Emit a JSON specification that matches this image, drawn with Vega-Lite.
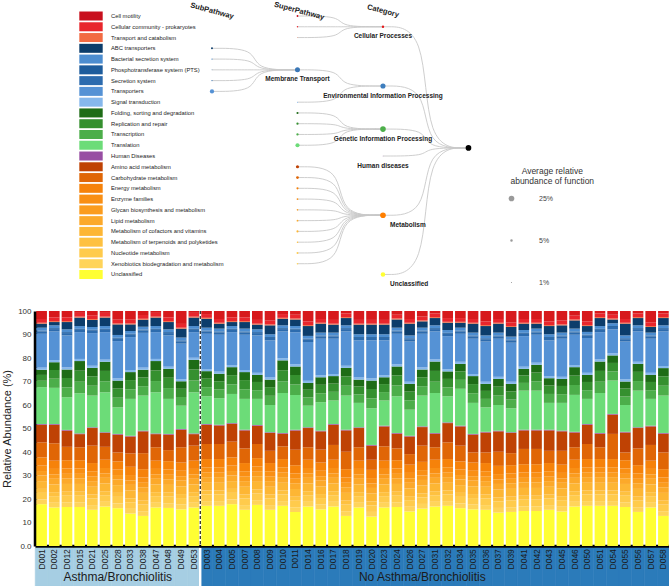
{
"$schema": "https://vega.github.io/schema/vega-lite/v6.json",
"padding": {"left": 1, "top": 0, "right": 0, "bottom": 0},
"bounds": "flush",
"spacing": 2,
"config": {"font": "Liberation Sans", "view": {"stroke": null}},
"resolve": {"scale": {"x": "independent", "y": "independent", "color": "independent", "size": "independent", "stroke": "independent"}, "axis": {"x": "independent", "y": "independent"}, "legend": {"color": "independent", "size": "independent"}},
"datasets": {
"samples": [
{"id":"D001","grp":"A","a":17.8,"b":2,"c":2.8,"d":1.7,"e":3.3,"f":2.4,"g":1.9,"h":2.3,"i":3.5,"j":6.4,"k":7.5,"l":0.3,"m":15.7,"n":2.7,"o":2.5,"p":2.2,"q":0.9,"r":14.4,"s":1,"t":0.4,"u":1.2,"v":1.7,"w":0.4,"x":1.6,"y":3.4},
{"id":"D002","grp":"A","a":16.4,"b":2,"c":2.8,"d":1.7,"e":3.3,"f":2.4,"g":1.9,"h":2.3,"i":3.5,"j":7.4,"k":7.9,"l":0.3,"m":15.4,"n":3.9,"o":3.7,"p":3.3,"q":0.9,"r":12.2,"s":1,"t":0.4,"u":1.2,"v":1.4,"w":0.4,"x":1.6,"y":2.7},
{"id":"D012","grp":"A","a":16.6,"b":2,"c":2.8,"d":1.7,"e":3.3,"f":2.4,"g":1.9,"h":2.3,"i":3.5,"j":5.7,"k":6.9,"l":0.3,"m":13.9,"n":4.2,"o":4.0,"p":3.6,"q":0.9,"r":13.6,"s":1,"t":0.4,"u":1.2,"v":3.1,"w":0.4,"x":1.6,"y":2.7},
{"id":"D015","grp":"A","a":16.6,"b":2,"c":2.8,"d":1.7,"e":3.3,"f":2.4,"g":1.9,"h":2.3,"i":3.5,"j":5.5,"k":5.6,"l":0.3,"m":17.1,"n":4.9,"o":4.7,"p":4.1,"q":0.9,"r":11.4,"s":1,"t":0.4,"u":1.2,"v":3.6,"w":0.4,"x":1.6,"y":0.8},
{"id":"D021","grp":"A","a":15.4,"b":2,"c":2.8,"d":1.7,"e":3.3,"f":2.4,"g":1.9,"h":2.3,"i":3.5,"j":7.4,"k":7.5,"l":0.3,"m":13.5,"n":4.2,"o":4.0,"p":3.6,"q":0.9,"r":13.9,"s":1,"t":0.4,"u":1.2,"v":3.0,"w":0.4,"x":1.6,"y":1.8},
{"id":"D025","grp":"A","a":16.8,"b":2,"c":2.8,"d":1.7,"e":3.3,"f":2.4,"g":1.9,"h":2.3,"i":3.5,"j":5.5,"k":5.9,"l":0.3,"m":17.0,"n":4.7,"o":4.4,"p":3.9,"q":0.9,"r":11.7,"s":1,"t":0.4,"u":1.2,"v":3.6,"w":0.4,"x":1.6,"y":0.8},
{"id":"D028","grp":"A","a":16.1,"b":2,"c":2.8,"d":1.7,"e":3.3,"f":2.4,"g":1.9,"h":2.3,"i":3.5,"j":3.8,"k":7.6,"l":0.3,"m":11.3,"n":4.1,"o":3.9,"p":3.4,"q":0.9,"r":15.9,"s":1,"t":0.4,"u":1.2,"v":4.5,"w":0.4,"x":1.6,"y":3.7},
{"id":"D033","grp":"A","a":13.8,"b":2,"c":2.8,"d":1.7,"e":3.3,"f":2.4,"g":1.9,"h":2.3,"i":3.5,"j":5.7,"k":7.2,"l":0.3,"m":15.7,"n":4.1,"o":3.9,"p":3.4,"q":0.9,"r":14.0,"s":1,"t":0.4,"u":1.2,"v":2.8,"w":0.4,"x":1.6,"y":3.7},
{"id":"D038","grp":"A","a":12.8,"b":2,"c":2.8,"d":1.7,"e":3.3,"f":2.4,"g":1.9,"h":2.3,"i":3.5,"j":6.8,"k":9.3,"l":0.3,"m":14.9,"n":4.0,"o":3.7,"p":3.3,"q":0.9,"r":14.8,"s":1,"t":0.4,"u":1.2,"v":3.0,"w":0.4,"x":1.6,"y":1.7},
{"id":"D047","grp":"A","a":16.4,"b":2,"c":2.8,"d":1.7,"e":3.3,"f":2.4,"g":1.9,"h":2.3,"i":3.5,"j":5.7,"k":5.6,"l":0.3,"m":17.5,"n":4.8,"o":4.5,"p":4.0,"q":0.9,"r":11.4,"s":1,"t":0.4,"u":1.2,"v":3.6,"w":0.4,"x":1.6,"y":0.8},
{"id":"D048","grp":"A","a":16.2,"b":2,"c":2.8,"d":1.7,"e":3.3,"f":2.4,"g":1.9,"h":2.3,"i":3.5,"j":4.7,"k":6.6,"l":0.3,"m":14.9,"n":4.6,"o":4.4,"p":3.8,"q":0.9,"r":13.3,"s":1,"t":0.4,"u":1.2,"v":3.1,"w":0.4,"x":1.6,"y":2.7},
{"id":"D049","grp":"A","a":15.6,"b":2,"c":2.8,"d":1.7,"e":3.3,"f":2.4,"g":1.9,"h":2.3,"i":3.5,"j":6.5,"k":7.5,"l":0.3,"m":9.9,"n":3.7,"o":3.5,"p":3.2,"q":0.9,"r":15.1,"s":1,"t":0.4,"u":1.2,"v":3.8,"w":0.4,"x":1.6,"y":5.5},
{"id":"D053","grp":"A","a":16.4,"b":2,"c":2.8,"d":1.7,"e":3.3,"f":2.4,"g":1.9,"h":2.3,"i":3.5,"j":6.4,"k":4.9,"l":0.3,"m":17.5,"n":5.0,"o":4.7,"p":4.1,"q":0.9,"r":10.9,"s":1,"t":0.4,"u":1.2,"v":3.6,"w":0.4,"x":1.6,"y":0.8},
{"id":"D003","grp":"N","a":17.1,"b":2,"c":2.8,"d":1.7,"e":3.3,"f":2.4,"g":1.9,"h":2.3,"i":3.5,"j":6.4,"k":8.2,"l":0.3,"m":11.8,"n":3.9,"o":3.6,"p":3.2,"q":0.9,"r":15.0,"s":1,"t":0.4,"u":1.2,"v":3.8,"w":0.4,"x":1.6,"y":1.3},
{"id":"D004","grp":"N","a":17.1,"b":2,"c":2.8,"d":1.7,"e":3.3,"f":2.4,"g":1.9,"h":2.3,"i":3.5,"j":6.4,"k":7.9,"l":0.3,"m":11.3,"n":3.7,"o":3.5,"p":3.2,"q":0.9,"r":15.7,"s":1,"t":0.4,"u":1.2,"v":2.1,"w":0.4,"x":1.6,"y":3.4},
{"id":"D005","grp":"N","a":17.8,"b":2,"c":2.8,"d":1.7,"e":3.3,"f":2.4,"g":1.9,"h":2.3,"i":3.5,"j":6.7,"k":7.6,"l":0.3,"m":12.4,"n":4.1,"o":3.9,"p":3.4,"q":0.9,"r":14.0,"s":1,"t":0.4,"u":1.2,"v":1.7,"w":0.4,"x":1.6,"y":2.7},
{"id":"D007","grp":"N","a":15.4,"b":2,"c":2.8,"d":1.7,"e":3.3,"f":2.4,"g":1.9,"h":2.3,"i":3.5,"j":6.2,"k":7.7,"l":0.3,"m":13.1,"n":4.1,"o":3.9,"p":3.4,"q":0.9,"r":15.0,"s":1,"t":0.4,"u":1.2,"v":2.8,"w":0.4,"x":1.6,"y":2.7},
{"id":"D008","grp":"N","a":17.5,"b":2,"c":2.8,"d":1.7,"e":3.3,"f":2.4,"g":1.9,"h":2.3,"i":3.5,"j":6.0,"k":7.8,"l":0.3,"m":11.1,"n":3.7,"o":3.5,"p":3.0,"q":0.9,"r":15.9,"s":1,"t":0.4,"u":1.2,"v":2.0,"w":0.4,"x":1.6,"y":3.8},
{"id":"D009","grp":"N","a":15.4,"b":2,"c":2.8,"d":1.7,"e":3.3,"f":2.4,"g":1.9,"h":2.3,"i":3.5,"j":5.2,"k":7.6,"l":0.3,"m":11.6,"n":3.9,"o":3.7,"p":3.2,"q":0.9,"r":15.8,"s":1,"t":0.4,"u":1.2,"v":3.8,"w":0.4,"x":1.6,"y":4.1},
{"id":"D010","grp":"N","a":17.1,"b":2,"c":2.8,"d":1.7,"e":3.3,"f":2.4,"g":1.9,"h":2.3,"i":3.5,"j":5.4,"k":5.4,"l":0.3,"m":17.0,"n":5.0,"o":4.7,"p":4.2,"q":0.9,"r":11.4,"s":1,"t":0.4,"u":1.2,"v":2.8,"w":0.4,"x":1.6,"y":1.3},
{"id":"D011","grp":"N","a":14.5,"b":2,"c":2.8,"d":1.7,"e":3.3,"f":2.4,"g":1.9,"h":2.3,"i":3.5,"j":6.6,"k":8.2,"l":0.3,"m":14.8,"n":4.4,"o":4.1,"p":3.6,"q":0.9,"r":13.7,"s":1,"t":0.4,"u":1.2,"v":2.8,"w":0.4,"x":1.6,"y":1.6},
{"id":"D014","grp":"N","a":16.8,"b":2,"c":2.8,"d":1.7,"e":3.3,"f":2.4,"g":1.9,"h":2.3,"i":3.5,"j":5.3,"k":8.2,"l":0.3,"m":9.2,"n":3.5,"o":3.3,"p":2.9,"q":0.9,"r":16.5,"s":1,"t":0.4,"u":1.2,"v":4.2,"w":0.4,"x":1.6,"y":4.4},
{"id":"D016","grp":"N","a":15.6,"b":2,"c":2.8,"d":1.7,"e":3.3,"f":2.4,"g":1.9,"h":2.3,"i":3.5,"j":5.5,"k":7.8,"l":0.3,"m":12.1,"n":3.8,"o":3.6,"p":3.2,"q":0.9,"r":15.5,"s":1,"t":0.4,"u":1.2,"v":3.8,"w":0.4,"x":1.6,"y":3.4},
{"id":"D017","grp":"N","a":16.8,"b":2,"c":2.8,"d":1.7,"e":3.3,"f":2.4,"g":1.9,"h":2.3,"i":3.5,"j":6.3,"k":8.6,"l":0.3,"m":10.0,"n":3.7,"o":3.5,"p":3.2,"q":0.9,"r":15.0,"s":1,"t":0.4,"u":1.2,"v":3.4,"w":0.4,"x":1.6,"y":3.8},
{"id":"D018","grp":"N","a":12.8,"b":2,"c":2.8,"d":1.7,"e":3.3,"f":2.4,"g":1.9,"h":2.3,"i":3.5,"j":7.4,"k":9.1,"l":0.3,"m":14.5,"n":4.2,"o":4.0,"p":3.6,"q":0.9,"r":14.6,"s":1,"t":0.4,"u":1.2,"v":3.1,"w":0.4,"x":1.6,"y":1.0},
{"id":"D019","grp":"N","a":16.4,"b":2,"c":2.8,"d":1.7,"e":3.3,"f":2.4,"g":1.9,"h":2.3,"i":3.5,"j":5.7,"k":8.2,"l":0.3,"m":10.4,"n":3.6,"o":3.4,"p":2.9,"q":0.9,"r":15.8,"s":1,"t":0.4,"u":1.2,"v":4.1,"w":0.4,"x":1.6,"y":3.8},
{"id":"D020","grp":"N","a":12.5,"b":2,"c":2.8,"d":1.7,"e":3.3,"f":2.4,"g":1.9,"h":2.3,"i":3.5,"j":4.3,"k":6.0,"l":0.3,"m":15.6,"n":4.2,"o":4.0,"p":3.6,"q":0.9,"r":16.2,"s":1,"t":0.4,"u":1.2,"v":4.1,"w":0.4,"x":1.6,"y":3.8},
{"id":"D023","grp":"N","a":16.4,"b":2,"c":2.8,"d":1.7,"e":3.3,"f":2.4,"g":1.9,"h":2.3,"i":3.5,"j":6.1,"k":8.5,"l":0.3,"m":10.7,"n":3.6,"o":3.4,"p":2.9,"q":0.9,"r":14.8,"s":1,"t":0.4,"u":1.2,"v":4.1,"w":0.4,"x":1.6,"y":3.8},
{"id":"D024","grp":"N","a":16.6,"b":2,"c":2.8,"d":1.7,"e":3.3,"f":2.4,"g":1.9,"h":2.3,"i":3.5,"j":5.0,"k":6.3,"l":0.3,"m":15.6,"n":4.6,"o":4.3,"p":3.8,"q":0.9,"r":13.0,"s":1,"t":0.4,"u":1.2,"v":3.5,"w":0.4,"x":1.6,"y":1.6},
{"id":"D026","grp":"N","a":14.7,"b":2,"c":2.8,"d":1.7,"e":3.3,"f":2.4,"g":1.9,"h":2.3,"i":3.5,"j":4.5,"k":7.5,"l":0.3,"m":11.1,"n":4.0,"o":3.7,"p":3.3,"q":0.9,"r":17.1,"s":1,"t":0.4,"u":1.2,"v":5.0,"w":0.4,"x":1.6,"y":3.4},
{"id":"D027","grp":"N","a":15.9,"b":2,"c":2.8,"d":1.7,"e":3.3,"f":2.4,"g":1.9,"h":2.3,"i":3.5,"j":6.9,"k":7.9,"l":0.3,"m":13.1,"n":4.0,"o":3.8,"p":3.3,"q":0.9,"r":14.3,"s":1,"t":0.4,"u":1.2,"v":2.7,"w":0.4,"x":1.6,"y":2.4},
{"id":"D031","grp":"N","a":16.8,"b":2,"c":2.8,"d":1.7,"e":3.3,"f":2.4,"g":1.9,"h":2.3,"i":3.5,"j":5.3,"k":5.8,"l":0.3,"m":17.0,"n":4.8,"o":4.6,"p":4.0,"q":0.9,"r":11.9,"s":1,"t":0.4,"u":1.2,"v":3.1,"w":0.4,"x":1.6,"y":1.0},
{"id":"D032","grp":"N","a":17.1,"b":2,"c":2.8,"d":1.7,"e":3.3,"f":2.4,"g":1.9,"h":2.3,"i":3.5,"j":7.1,"k":8.2,"l":0.3,"m":11.1,"n":3.8,"o":3.6,"p":3.2,"q":0.9,"r":14.1,"s":1,"t":0.4,"u":1.2,"v":3.1,"w":0.4,"x":1.6,"y":3.0},
{"id":"D034","grp":"N","a":16.1,"b":2,"c":2.8,"d":1.7,"e":3.3,"f":2.4,"g":1.9,"h":2.3,"i":3.5,"j":6.7,"k":8.2,"l":0.3,"m":15.7,"n":3.8,"o":3.6,"p":3.2,"q":0.9,"r":11.9,"s":1,"t":0.4,"u":1.2,"v":2.1,"w":0.4,"x":1.6,"y":3.0},
{"id":"D035","grp":"N","a":15.6,"b":2,"c":2.8,"d":1.7,"e":3.3,"f":2.4,"g":1.9,"h":2.3,"i":3.5,"j":4.3,"k":7.6,"l":0.3,"m":13.2,"n":4.1,"o":3.9,"p":3.4,"q":0.9,"r":15.0,"s":1,"t":0.4,"u":1.2,"v":3.8,"w":0.4,"x":1.6,"y":3.4},
{"id":"D036","grp":"N","a":15.4,"b":2,"c":2.8,"d":1.7,"e":3.3,"f":2.4,"g":1.9,"h":2.3,"i":3.5,"j":4.5,"k":8.5,"l":0.3,"m":10.4,"n":3.6,"o":3.4,"p":3.0,"q":0.9,"r":17.1,"s":1,"t":0.4,"u":1.2,"v":4.0,"w":0.4,"x":1.6,"y":4.4},
{"id":"D037","grp":"N","a":14.2,"b":2,"c":2.8,"d":1.7,"e":3.3,"f":2.4,"g":1.9,"h":2.3,"i":3.5,"j":6.0,"k":8.7,"l":0.3,"m":10.9,"n":4.0,"o":3.8,"p":3.3,"q":0.9,"r":16.2,"s":1,"t":0.4,"u":1.2,"v":3.8,"w":0.4,"x":1.6,"y":3.4},
{"id":"D039","grp":"N","a":14.5,"b":2,"c":2.8,"d":1.7,"e":3.3,"f":2.4,"g":1.9,"h":2.3,"i":3.5,"j":5.1,"k":8.6,"l":0.3,"m":10.2,"n":3.7,"o":3.5,"p":3.2,"q":0.9,"r":16.6,"s":1,"t":0.4,"u":1.2,"v":4.1,"w":0.4,"x":1.6,"y":4.8},
{"id":"D041","grp":"N","a":14.9,"b":2,"c":2.8,"d":1.7,"e":3.3,"f":2.4,"g":1.9,"h":2.3,"i":3.5,"j":6.5,"k":7.9,"l":0.3,"m":16.6,"n":3.3,"o":3.2,"p":2.8,"q":0.9,"r":13.0,"s":1,"t":0.4,"u":1.2,"v":2.7,"w":0.4,"x":1.6,"y":3.4},
{"id":"D042","grp":"N","a":14.9,"b":2,"c":2.8,"d":1.7,"e":3.3,"f":2.4,"g":1.9,"h":2.3,"i":3.5,"j":6.5,"k":7.9,"l":0.3,"m":16.6,"n":4.0,"o":3.7,"p":3.3,"q":0.9,"r":11.9,"s":1,"t":0.4,"u":1.2,"v":2.1,"w":0.4,"x":1.6,"y":3.4},
{"id":"D043","grp":"N","a":15.4,"b":2,"c":2.8,"d":1.7,"e":3.3,"f":2.4,"g":1.9,"h":2.3,"i":3.5,"j":5.2,"k":8.7,"l":0.3,"m":11.4,"n":3.8,"o":3.6,"p":3.1,"q":0.9,"r":15.2,"s":1,"t":0.4,"u":1.2,"v":3.5,"w":0.4,"x":1.6,"y":4.4},
{"id":"D045","grp":"N","a":14.7,"b":2,"c":2.8,"d":1.7,"e":3.3,"f":2.4,"g":1.9,"h":2.3,"i":3.5,"j":5.9,"k":8.3,"l":0.3,"m":11.8,"n":3.7,"o":3.5,"p":3.0,"q":0.9,"r":16.2,"s":1,"t":0.4,"u":1.2,"v":3.1,"w":0.4,"x":1.6,"y":4.1},
{"id":"D046","grp":"N","a":16.8,"b":2,"c":2.8,"d":1.7,"e":3.3,"f":2.4,"g":1.9,"h":2.3,"i":3.5,"j":5.3,"k":6.3,"l":0.3,"m":15.7,"n":4.2,"o":4.0,"p":3.6,"q":0.9,"r":12.9,"s":1,"t":0.4,"u":1.2,"v":3.5,"w":0.4,"x":1.6,"y":2.0},
{"id":"D050","grp":"N","a":17.1,"b":2,"c":2.8,"d":1.7,"e":3.3,"f":2.4,"g":1.9,"h":2.3,"i":3.5,"j":6.4,"k":8.2,"l":0.3,"m":10.7,"n":3.7,"o":3.5,"p":3.0,"q":0.9,"r":14.8,"s":1,"t":0.4,"u":1.2,"v":2.5,"w":0.4,"x":1.6,"y":4.4},
{"id":"D051","grp":"N","a":17.1,"b":2,"c":2.8,"d":1.7,"e":3.3,"f":2.4,"g":1.9,"h":2.3,"i":3.5,"j":5.0,"k":5.8,"l":0.3,"m":17.0,"n":4.8,"o":4.6,"p":4.0,"q":0.9,"r":11.6,"s":1,"t":0.4,"u":1.2,"v":3.4,"w":0.4,"x":1.6,"y":1.0},
{"id":"D054","grp":"N","a":17.1,"b":2,"c":2.8,"d":1.7,"e":3.3,"f":2.4,"g":1.9,"h":2.3,"i":3.5,"j":10.7,"k":8.2,"l":0.3,"m":14.2,"n":3.9,"o":3.6,"p":3.2,"q":0.9,"r":10.2,"s":1,"t":0.4,"u":1.2,"v":1.6,"w":0.4,"x":1.6,"y":1.6},
{"id":"D055","grp":"N","a":16.6,"b":2,"c":2.8,"d":1.7,"e":3.3,"f":2.4,"g":1.9,"h":2.3,"i":3.5,"j":3.3,"k":8.5,"l":0.3,"m":11.4,"n":3.6,"o":3.4,"p":3.0,"q":0.9,"r":16.1,"s":1,"t":0.4,"u":1.2,"v":5.0,"w":0.4,"x":1.6,"y":3.4},
{"id":"D056","grp":"N","a":14.5,"b":2,"c":2.8,"d":1.7,"e":3.3,"f":2.4,"g":1.9,"h":2.3,"i":3.5,"j":7.1,"k":8.7,"l":0.3,"m":15.6,"n":4.1,"o":3.9,"p":3.4,"q":0.9,"r":12.9,"s":1,"t":0.4,"u":1.2,"v":3.1,"w":0.4,"x":1.6,"y":1.0},
{"id":"D057","grp":"N","a":16.4,"b":2,"c":2.8,"d":1.7,"e":3.3,"f":2.4,"g":1.9,"h":2.3,"i":3.5,"j":6.7,"k":7.9,"l":0.3,"m":11.4,"n":3.7,"o":3.5,"p":3.0,"q":0.9,"r":14.5,"s":1,"t":0.4,"u":1.2,"v":2.4,"w":0.4,"x":1.6,"y":4.8},
{"id":"D058","grp":"N","a":12.8,"b":2,"c":2.8,"d":1.7,"e":3.3,"f":2.4,"g":1.9,"h":2.3,"i":3.5,"j":7.1,"k":8.0,"l":0.3,"m":15.9,"n":4.2,"o":4.0,"p":3.5,"q":0.9,"r":14.7,"s":1,"t":0.4,"u":1.2,"v":3.1,"w":0.4,"x":1.6,"y":1.0}
],
"groups": [
{"label": "Asthma/Bronchiolitis", "mid": "D028"},
{"label": "No Asthma/Bronchiolitis", "mid": "D027"}
],
"paths": [
{"name":"Cell motility","r":0},
{"name":"Cellular community - prokaryotes","r":1},
{"name":"Transport and catabolism","r":2},
{"name":"ABC transporters","r":3},
{"name":"Bacterial secretion system","r":4},
{"name":"Phosphotransferase system (PTS)","r":5},
{"name":"Secretion system","r":6},
{"name":"Transporters","r":7},
{"name":"Signal transduction","r":8},
{"name":"Folding, sorting and degradation","r":9},
{"name":"Replication and repair","r":10},
{"name":"Transcription","r":11},
{"name":"Translation","r":12},
{"name":"Human Diseases","r":13},
{"name":"Amino acid metabolism","r":14},
{"name":"Carbohydrate metabolism","r":15},
{"name":"Energy metabolism","r":16},
{"name":"Enzyme families","r":17},
{"name":"Glycan biosynthesis and metabolism","r":18},
{"name":"Lipid metabolism","r":19},
{"name":"Metabolism of cofactors and vitamins","r":20},
{"name":"Metabolism of terpenoids and polyketides","r":21},
{"name":"Nucleotide metabolism","r":22},
{"name":"Xenobiotics biodegradation and metabolism","r":23},
{"name":"Unclassified","r":24}
],
"nodes": [
{"name":"ABC transporters","u":0,"r":3,"pct":3},
{"name":"Bacterial secretion system","u":0,"r":4,"pct":1.2},
{"name":"Phosphotransferase system (PTS)","u":0,"r":5,"pct":0.4},
{"name":"Secretion system","u":0,"r":6,"pct":1},
{"name":"Transporters","u":0,"r":7,"pct":14},
{"name":"Cell motility","u":1,"r":0,"pct":2.5},
{"name":"Cellular community - prokaryotes","u":1,"r":1,"pct":1.6},
{"name":"Transport and catabolism","u":1,"r":2,"pct":0.4},
{"name":"Membrane Transport","u":1,"r":5,"pct":19.6},
{"name":"Signal transduction","u":1,"r":8,"pct":0.9},
{"name":"Folding, sorting and degradation","u":1,"r":9,"pct":3.4},
{"name":"Replication and repair","u":1,"r":10,"pct":3.8},
{"name":"Transcription","u":1,"r":11,"pct":4.1},
{"name":"Translation","u":1,"r":12,"pct":13.3},
{"name":"Amino acid metabolism","u":1,"r":14,"pct":7.7},
{"name":"Carbohydrate metabolism","u":1,"r":15,"pct":6},
{"name":"Energy metabolism","u":1,"r":16,"pct":3.5},
{"name":"Enzyme families","u":1,"r":17,"pct":2.3},
{"name":"Glycan biosynthesis and metabolism","u":1,"r":18,"pct":1.9},
{"name":"Lipid metabolism","u":1,"r":19,"pct":2.4},
{"name":"Metabolism of cofactors and vitamins","u":1,"r":20,"pct":3.3},
{"name":"Metabolism of terpenoids and polyketides","u":1,"r":21,"pct":1.7},
{"name":"Nucleotide metabolism","u":1,"r":22,"pct":2.8},
{"name":"Xenobiotics biodegradation and metabolism","u":1,"r":23,"pct":2},
{"name":"Cellular Processes","u":2,"r":1,"pct":4.5},
{"name":"Environmental Information Processing","u":2,"r":6.5,"pct":20.5},
{"name":"Genetic Information Processing","u":2,"r":10.5,"pct":24.6},
{"name":"Human diseases","u":2,"r":13,"pct":0.3},
{"name":"Metabolism","u":2,"r":18.5,"pct":46},
{"name":"Unclassified","u":2,"r":24,"pct":15.9},
{"name":"root","u":3,"r":12.25,"pct":100}
],
"links": [
{"l":1,"o":0,"u":0,"r":3},{"l":1,"o":1,"u":0.5,"r":3},{"l":1,"o":2,"u":0.5,"r":5},{"l":1,"o":3,"u":1,"r":5},
{"l":2,"o":0,"u":0,"r":4},{"l":2,"o":1,"u":0.5,"r":4},{"l":2,"o":2,"u":0.5,"r":5},{"l":2,"o":3,"u":1,"r":5},
{"l":3,"o":0,"u":0,"r":5},{"l":3,"o":1,"u":0.5,"r":5},{"l":3,"o":2,"u":0.5,"r":5},{"l":3,"o":3,"u":1,"r":5},
{"l":4,"o":0,"u":0,"r":6},{"l":4,"o":1,"u":0.5,"r":6},{"l":4,"o":2,"u":0.5,"r":5},{"l":4,"o":3,"u":1,"r":5},
{"l":5,"o":0,"u":0,"r":7},{"l":5,"o":1,"u":0.5,"r":7},{"l":5,"o":2,"u":0.5,"r":5},{"l":5,"o":3,"u":1,"r":5},
{"l":6,"o":0,"u":1,"r":0},{"l":6,"o":1,"u":1.5,"r":0},{"l":6,"o":2,"u":1.5,"r":1},{"l":6,"o":3,"u":2,"r":1},
{"l":7,"o":0,"u":1,"r":1},{"l":7,"o":1,"u":1.5,"r":1},{"l":7,"o":2,"u":1.5,"r":1},{"l":7,"o":3,"u":2,"r":1},
{"l":8,"o":0,"u":1,"r":2},{"l":8,"o":1,"u":1.5,"r":2},{"l":8,"o":2,"u":1.5,"r":1},{"l":8,"o":3,"u":2,"r":1},
{"l":9,"o":0,"u":1,"r":5},{"l":9,"o":1,"u":1.5,"r":5},{"l":9,"o":2,"u":1.5,"r":6.5},{"l":9,"o":3,"u":2,"r":6.5},
{"l":10,"o":0,"u":1,"r":8},{"l":10,"o":1,"u":1.5,"r":8},{"l":10,"o":2,"u":1.5,"r":6.5},{"l":10,"o":3,"u":2,"r":6.5},
{"l":11,"o":0,"u":1,"r":9},{"l":11,"o":1,"u":1.5,"r":9},{"l":11,"o":2,"u":1.5,"r":10.5},{"l":11,"o":3,"u":2,"r":10.5},
{"l":12,"o":0,"u":1,"r":10},{"l":12,"o":1,"u":1.5,"r":10},{"l":12,"o":2,"u":1.5,"r":10.5},{"l":12,"o":3,"u":2,"r":10.5},
{"l":13,"o":0,"u":1,"r":11},{"l":13,"o":1,"u":1.5,"r":11},{"l":13,"o":2,"u":1.5,"r":10.5},{"l":13,"o":3,"u":2,"r":10.5},
{"l":14,"o":0,"u":1,"r":12},{"l":14,"o":1,"u":1.5,"r":12},{"l":14,"o":2,"u":1.5,"r":10.5},{"l":14,"o":3,"u":2,"r":10.5},
{"l":15,"o":0,"u":1,"r":14},{"l":15,"o":1,"u":1.5,"r":14},{"l":15,"o":2,"u":1.5,"r":18.5},{"l":15,"o":3,"u":2,"r":18.5},
{"l":16,"o":0,"u":1,"r":15},{"l":16,"o":1,"u":1.5,"r":15},{"l":16,"o":2,"u":1.5,"r":18.5},{"l":16,"o":3,"u":2,"r":18.5},
{"l":17,"o":0,"u":1,"r":16},{"l":17,"o":1,"u":1.5,"r":16},{"l":17,"o":2,"u":1.5,"r":18.5},{"l":17,"o":3,"u":2,"r":18.5},
{"l":18,"o":0,"u":1,"r":17},{"l":18,"o":1,"u":1.5,"r":17},{"l":18,"o":2,"u":1.5,"r":18.5},{"l":18,"o":3,"u":2,"r":18.5},
{"l":19,"o":0,"u":1,"r":18},{"l":19,"o":1,"u":1.5,"r":18},{"l":19,"o":2,"u":1.5,"r":18.5},{"l":19,"o":3,"u":2,"r":18.5},
{"l":20,"o":0,"u":1,"r":19},{"l":20,"o":1,"u":1.5,"r":19},{"l":20,"o":2,"u":1.5,"r":18.5},{"l":20,"o":3,"u":2,"r":18.5},
{"l":21,"o":0,"u":1,"r":20},{"l":21,"o":1,"u":1.5,"r":20},{"l":21,"o":2,"u":1.5,"r":18.5},{"l":21,"o":3,"u":2,"r":18.5},
{"l":22,"o":0,"u":1,"r":21},{"l":22,"o":1,"u":1.5,"r":21},{"l":22,"o":2,"u":1.5,"r":18.5},{"l":22,"o":3,"u":2,"r":18.5},
{"l":23,"o":0,"u":1,"r":22},{"l":23,"o":1,"u":1.5,"r":22},{"l":23,"o":2,"u":1.5,"r":18.5},{"l":23,"o":3,"u":2,"r":18.5},
{"l":24,"o":0,"u":1,"r":23},{"l":24,"o":1,"u":1.5,"r":23},{"l":24,"o":2,"u":1.5,"r":18.5},{"l":24,"o":3,"u":2,"r":18.5},
{"l":25,"o":0,"u":2,"r":1},{"l":25,"o":1,"u":2.5,"r":1},{"l":25,"o":2,"u":2.5,"r":12.25},{"l":25,"o":3,"u":3,"r":12.25},
{"l":26,"o":0,"u":2,"r":6.5},{"l":26,"o":1,"u":2.5,"r":6.5},{"l":26,"o":2,"u":2.5,"r":12.25},{"l":26,"o":3,"u":3,"r":12.25},
{"l":27,"o":0,"u":2,"r":10.5},{"l":27,"o":1,"u":2.5,"r":10.5},{"l":27,"o":2,"u":2.5,"r":12.25},{"l":27,"o":3,"u":3,"r":12.25},
{"l":28,"o":0,"u":2,"r":13},{"l":28,"o":1,"u":2.5,"r":13},{"l":28,"o":2,"u":2.5,"r":12.25},{"l":28,"o":3,"u":3,"r":12.25},
{"l":29,"o":0,"u":2,"r":18.5},{"l":29,"o":1,"u":2.5,"r":18.5},{"l":29,"o":2,"u":2.5,"r":12.25},{"l":29,"o":3,"u":3,"r":12.25},
{"l":30,"o":0,"u":2,"r":24},{"l":30,"o":1,"u":2.5,"r":24},{"l":30,"o":2,"u":2.5,"r":12.25},{"l":30,"o":3,"u":3,"r":12.25}
]
},
"vconcat": [
{
"width": 635, "height": 309,
"layer": [
{"data": {"name": "links"},
 "mark": {"type": "line", "interpolate": "basis", "color": "#c8c8c8", "strokeWidth": 0.9},
 "encoding": {
  "x": {"field": "u", "type": "quantitative", "scale": {"domain": [-2.07, 5.357], "nice": false, "zero": false}, "axis": null},
  "y": {"field": "r", "type": "quantitative", "scale": {"domain": [-1.486, 27.205], "reverse": true, "nice": false, "zero": false}, "axis": null},
  "detail": {"field": "l", "type": "nominal"},
  "order": {"field": "o", "type": "quantitative"}}},
{"data": {"name": "nodes"},
 "mark": {"type": "point", "filled": true, "opacity": 1},
 "encoding": {
  "x": {"field": "u", "type": "quantitative"},
  "y": {"field": "r", "type": "quantitative"},
  "color": {"field": "name", "type": "nominal", "legend": null,
   "scale": {"domain": ["Cell motility","Cellular community - prokaryotes","Transport and catabolism","ABC transporters","Bacterial secretion system","Phosphotransferase system (PTS)","Secretion system","Transporters","Signal transduction","Folding, sorting and degradation","Replication and repair","Transcription","Translation","Human Diseases","Amino acid metabolism","Carbohydrate metabolism","Energy metabolism","Enzyme families","Glycan biosynthesis and metabolism","Lipid metabolism","Metabolism of cofactors and vitamins","Metabolism of terpenoids and polyketides","Nucleotide metabolism","Xenobiotics biodegradation and metabolism","Unclassified","Membrane Transport","Cellular Processes","Environmental Information Processing","Genetic Information Processing","Human diseases","Metabolism","root"],
    "range": ["#C8101E","#E8262C","#F26B43","#0C3D6B","#4C8DD0","#1D5C9C","#2C6BAE","#5592D5","#86B8EC","#1E6C16","#35902F","#4CAE4A","#6CDC78","#984EA3","#BF4204","#E06606","#F6820A","#F98F14","#FB9C1E","#FCA92A","#FDB634","#FEC140","#FFCB4C","#FFD45A","#FFFF33","#3A77B6","#E41A1C","#3D7EBE","#4DAF4A","#984EA3","#FF7F00","#000000"]}},
  "size": {"field": "pct", "type": "quantitative",
   "scale": {"type": "linear", "domain": [0, 25], "range": [0, 32], "clamp": true},
   "legend": {"orient": "none", "legendX": 473, "legendY": 195, "title": null, "values": [25, 5, 1], "labelExpr": "datum.value + '%'", "labelFontSize": 7, "labelColor": "#444", "labelOffset": 24, "rowPadding": 34, "symbolFillColor": "#9a9a9a", "symbolStrokeColor": "#9a9a9a", "symbolStrokeWidth": 0, "symbolType": "circle", "symbolOpacity": 1}}}},
{"data": {"values": [{}]},
 "mark": {"type": "text", "fontSize": 8.5, "color": "#333", "lineHeight": 10, "align": "center", "baseline": "middle"},
 "encoding": {"x": {"datum": 3.98, "type": "quantitative"}, "y": {"datum": 14.35, "type": "quantitative"}, "text": {"value": ["Average relative", "abundance of function"]}}},
{"data": {"name": "nodes"},
 "transform": [{"filter": {"field": "name", "oneOf": ["Cellular Processes", "Membrane Transport", "Environmental Information Processing", "Genetic Information Processing", "Human diseases"]}}],
 "mark": {"type": "text", "fontWeight": "bold", "fontSize": 6.5, "dy": 9.5, "color": "#222"},
 "encoding": {"x": {"field": "u", "type": "quantitative"}, "y": {"field": "r", "type": "quantitative"}, "text": {"field": "name"}}},
{"data": {"name": "nodes"},
 "transform": [{"filter": {"field": "name", "oneOf": ["Metabolism", "Unclassified"]}}],
 "mark": {"type": "text", "fontWeight": "bold", "fontSize": 6.5, "dx": 7, "dy": 10, "align": "left", "color": "#222"},
 "encoding": {"x": {"field": "u", "type": "quantitative"}, "y": {"field": "r", "type": "quantitative"}, "text": {"field": "name"}}},
{"data": {"name": "paths"},
 "mark": {"type": "point", "shape": "M-2.6,-1H2.6V1H-2.6Z", "size": 81, "filled": true, "opacity": 1},
 "encoding": {"x": {"datum": -1.415, "type": "quantitative"}, "y": {"field": "r", "type": "quantitative"}, "color": {"field": "name", "type": "nominal", "legend": null}}},
{"data": {"name": "paths"},
 "mark": {"type": "text", "align": "left", "baseline": "middle", "fontSize": 5.8, "color": "#222"},
 "encoding": {"x": {"datum": -1.181, "type": "quantitative"}, "y": {"field": "r", "type": "quantitative"}, "text": {"field": "name"}}},
{"data": {"values": [{"h": "SubPathway", "u": 0}, {"h": "SuperPathway", "u": 1.02}, {"h": "Category", "u": 2}]},
 "mark": {"type": "text", "angle": 15, "fontWeight": "bold", "fontSize": 7.5, "color": "#222"},
 "encoding": {"x": {"field": "u", "type": "quantitative"}, "y": {"datum": -0.45, "type": "quantitative"}, "text": {"field": "h"}}}
]
},
{
"width": 635, "height": 235,
"layer": [
{"data": {"name": "samples"},
 "transform": [{"fold": ["a","b","c","d","e","f","g","h","i","j","k","l","m","n","o","p","q","r","s","t","u","v","w","x","y"], "as": ["key", "v"]}],
 "mark": {"type": "bar"},
 "encoding": {
  "x": {"field": "id", "type": "nominal",
   "scale": {"domain": ["D001","D002","D012","D015","D021","D025","D028","D033","D038","D047","D048","D049","D053","D003","D004","D005","D007","D008","D009","D010","D011","D014","D016","D017","D018","D019","D020","D023","D024","D026","D027","D031","D032","D034","D035","D036","D037","D039","D041","D042","D043","D045","D046","D050","D051","D054","D055","D056","D057","D058"], "paddingInner": 0.16, "paddingOuter": 0.1},
   "axis": {"labels": false, "ticks": false, "title": null, "domainColor": "#000", "domainWidth": 3.5}},
  "y": {"field": "v", "type": "quantitative", "stack": "zero", "scale": {"domain": [0, 100], "nice": false},
   "axis": {"values": [0,10,20,30,40,50,60,70,80,90,100], "labelExpr": "datum.value == 0 ? '0.0' : datum.label", "title": "Relative Abundance (%)", "titleFontSize": 11, "titleFontWeight": "normal", "titleColor": "#222", "titlePadding": 5, "labelFontSize": 8, "labelColor": "#333", "labelPadding": 4, "ticks": false, "tickSize": 0, "grid": false, "domainColor": "#000", "domainWidth": 3.5}},
  "color": {"field": "key", "type": "nominal", "legend": null,
   "scale": {"domain": ["a","b","c","d","e","f","g","h","i","j","k","l","m","n","o","p","q","r","s","t","u","v","w","x","y"],
    "range": ["#FFFF33","#FFD45A","#FFCB4C","#FEC140","#FDB634","#FCA92A","#FB9C1E","#F98F14","#F6820A","#E06606","#BF4204","#984EA3","#6CDC78","#4CAE4A","#35902F","#1E6C16","#86B8EC","#5592D5","#2C6BAE","#1D5C9C","#4C8DD0","#0C3D6B","#F26B43","#E8262C","#D7191C"]}},
  "order": {"field": "key", "type": "ordinal", "sort": "ascending"}}},
{"data": {"values": [{}]},
 "mark": {"type": "rule", "strokeDash": [3, 2], "strokeWidth": 1.1, "color": "#111"},
 "encoding": {"x": {"datum": "D003", "type": "nominal", "bandPosition": -0.09}}}
]
},
{
"width": 635, "height": 38,
"layer": [
{"data": {"name": "samples"},
 "mark": {"type": "rect", "strokeWidth": 0.6},
 "encoding": {
  "x": {"field": "id", "type": "nominal", "axis": null,
   "scale": {"domain": ["D001","D002","D012","D015","D021","D025","D028","D033","D038","D047","D048","D049","D053","D003","D004","D005","D007","D008","D009","D010","D011","D014","D016","D017","D018","D019","D020","D023","D024","D026","D027","D031","D032","D034","D035","D036","D037","D039","D041","D042","D043","D045","D046","D050","D051","D054","D055","D056","D057","D058"], "paddingInner": 0, "paddingOuter": 0.02}},
  "color": {"field": "grp", "type": "nominal", "legend": null, "scale": {"domain": ["A", "N"], "range": ["#A6CEE3", "#2B7BBA"]}},
  "stroke": {"field": "grp", "type": "nominal", "legend": null, "scale": {"domain": ["A", "N"], "range": ["#A6CEE3", "#2B7BBA"]}}}},
{"data": {"values": [{}]},
 "mark": {"type": "rule", "color": "#ffffff", "strokeWidth": 2.4},
 "encoding": {"x": {"datum": "D003", "type": "nominal", "bandPosition": 0}}},
{"data": {"name": "samples"},
 "mark": {"type": "text", "angle": 270, "align": "right", "baseline": "middle", "fontSize": 8.5, "color": "#1b1b1b"},
 "encoding": {
  "x": {"field": "id", "type": "nominal"},
  "y": {"datum": 0.97, "type": "quantitative", "scale": {"domain": [0, 1], "nice": false}, "axis": null},
  "text": {"field": "id"}}},
{"data": {"name": "groups"},
 "mark": {"type": "text", "fontSize": 12, "color": "#1b1b1b", "baseline": "alphabetic"},
 "encoding": {
  "x": {"field": "mid", "type": "nominal"},
  "y": {"datum": 0.13, "type": "quantitative"},
  "text": {"field": "label"}}}
]
}
]
}
